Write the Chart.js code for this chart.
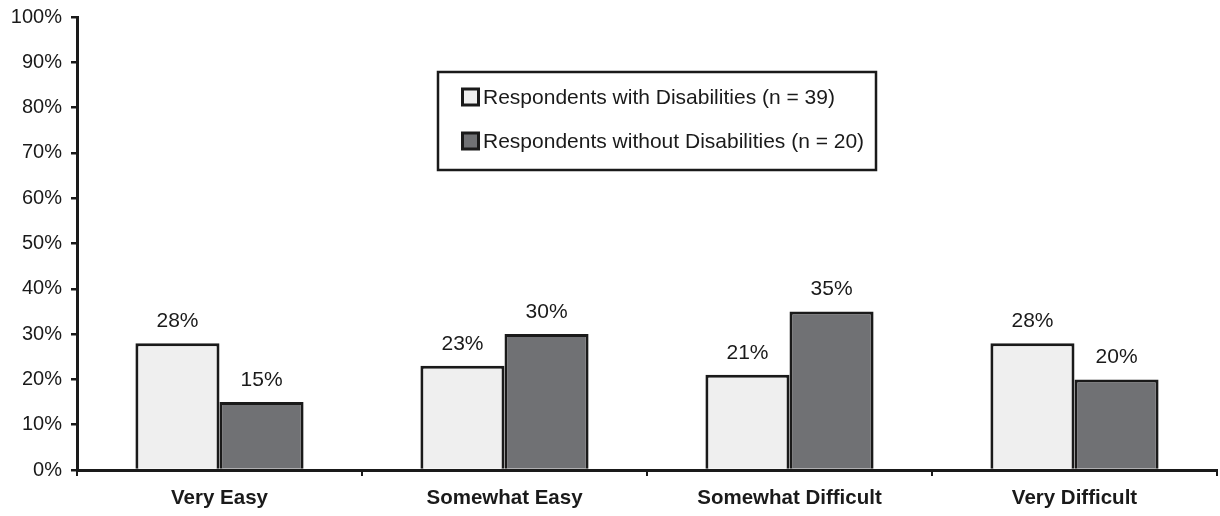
<!DOCTYPE html>
<html>
<head>
<meta charset="utf-8">
<script src="https://cdn.jsdelivr.net/npm/chart.js@4"></script>
<style>
  html, body { margin: 0; padding: 0; background: #fff; }
  .chart-container { width: 1220px; height: 516px; position: relative; }
</style>
</head>
<body>
<div class="chart-container"><canvas id="chart"></canvas></div>
<script>
const categories = ['Very Easy', 'Somewhat Easy', 'Somewhat Difficult', 'Very Difficult'];
const withDisabilities = [28, 23, 21, 28];
const withoutDisabilities = [15, 30, 35, 20];
const yTicks = [0, 10, 20, 30, 40, 50, 60, 70, 80, 90, 100];

const FONT = "'Liberation Sans', Arial, sans-serif";
const INK = '#1a1a1a';

// value labels above each bar
const barLabels = {
  id: 'barLabels',
  afterDatasetsDraw(chart) {
    const ctx = chart.ctx;
    ctx.save();
    ctx.font = '21px ' + FONT;
    ctx.fillStyle = INK;
    ctx.textAlign = 'center';
    ctx.textBaseline = 'middle';
    chart.data.datasets.forEach((ds, i) => {
      chart.getDatasetMeta(i).data.forEach((bar, j) => {
        ctx.fillText(ds.data[j] + '%', bar.x, bar.y - 22);
      });
    });
    ctx.restore();
  }
};

// boxed legend inside the plot
const boxLegend = {
  id: 'boxLegend',
  afterDraw(chart) {
    const ctx = chart.ctx;
    const left = 438, top = 72, width = 438, height = 98;
    ctx.save();
    ctx.fillStyle = '#fff';
    ctx.fillRect(left, top, width, height);
    ctx.strokeStyle = INK;
    ctx.lineWidth = 2.5;
    ctx.strokeRect(left, top, width, height);
    ctx.font = '21px ' + FONT;
    ctx.textBaseline = 'middle';
    chart.data.datasets.forEach((ds, i) => {
      const cy = top + 25 + i * 44;
      ctx.fillStyle = ds.backgroundColor;
      ctx.fillRect(462.5, cy - 8, 16, 16);
      ctx.lineWidth = 3;
      ctx.strokeRect(462.5, cy - 8, 16, 16);
      ctx.fillStyle = INK;
      ctx.fillText(ds.label, 483, cy + 1);
    });
    ctx.restore();
  }
};

new Chart(document.getElementById('chart'), {
  type: 'bar',
  data: {
    labels: categories,
    datasets: [
      {
        label: 'Respondents with Disabilities (n = 39)',
        data: withDisabilities,
        backgroundColor: '#efefef',
        borderColor: INK,
        borderWidth: 3,
        borderSkipped: 'bottom',
        barPercentage: 1,
        categoryPercentage: 0.59,
      },
      {
        label: 'Respondents without Disabilities (n = 20)',
        data: withoutDisabilities,
        backgroundColor: '#707174',
        borderColor: INK,
        borderWidth: 3,
        borderSkipped: 'bottom',
        barPercentage: 1,
        categoryPercentage: 0.59,
      },
    ],
  },
  options: {
    responsive: true,
    maintainAspectRatio: false,
    animation: false,
    layout: { padding: { top: 17, right: 3, bottom: 0, left: 0 } },
    plugins: {
      legend: { display: false },
      tooltip: { enabled: false },
    },
    scales: {
      x: {
        afterFit(scale) { scale.height = 46; },
        grid: { drawOnChartArea: false, drawTicks: true, tickLength: 6, color: INK, lineWidth: 2, offset: true },
        border: { color: INK, width: 3 },
        ticks: { color: INK, font: { family: FONT, size: 20.5, weight: 'bold' }, padding: 10 },
      },
      y: {
        min: 0,
        max: 100,
        afterFit(scale) { scale.width = 77; scale.paddingTop = 0; scale.paddingBottom = 0; },
        afterBuildTicks(scale) { scale.ticks = yTicks.map(v => ({ value: v })); },
        grid: { drawOnChartArea: false, drawTicks: true, tickLength: 6, color: INK, lineWidth: 2.5 },
        border: { color: INK, width: 3 },
        ticks: { color: INK, font: { family: FONT, size: 20 }, padding: 9, callback: v => v + '%' },
      },
    },
  },
  plugins: [barLabels, boxLegend],
});
</script>
</body>
</html>
